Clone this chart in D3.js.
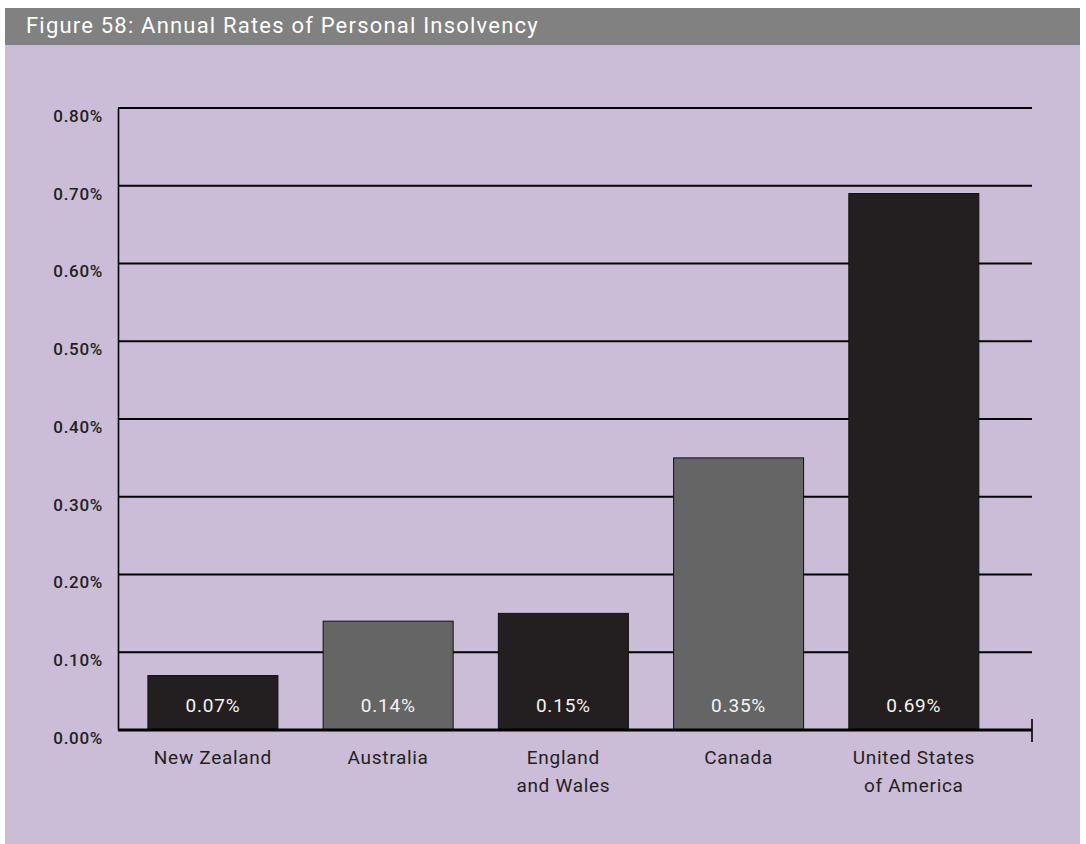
<!DOCTYPE html>
<html>
<head>
<meta charset="utf-8">
<script src="https://cdn.jsdelivr.net/npm/d3@7"></script>
<style>
  html, body { margin: 0; padding: 0; background: #ffffff; }
  svg { display: block; }
</style>
</head>
<body>
<svg id="chart" width="1086" height="844"></svg>
<script>
// Annual rates of personal insolvency by jurisdiction (percent of adult population)
const categories = ["New Zealand", "Australia", "England\nand Wales", "Canada", "United States\nof America"];
const rates = [0.07, 0.14, 0.15, 0.35, 0.69];
const barShades = ["dark", "mid", "dark", "mid", "dark"];
const yTicks = [0, 0.1, 0.2, 0.3, 0.4, 0.5, 0.6, 0.7, 0.8];
const title = "Figure 58: Annual Rates of Personal Insolvency";

const svg = d3.select("#chart");
const font = "Roboto, 'Open Sans', sans-serif";
const ink = "#231f20";
const shadeColor = { dark: "#231f20", mid: "#656565" };

// panel and title strip
svg.append("rect").attr("x", 5).attr("y", 45).attr("width", 1075).attr("height", 799).attr("fill", "#cbbdd7");
svg.append("rect").attr("x", 5).attr("y", 8).attr("width", 1075).attr("height", 37).attr("fill", "#818182");
svg.append("text").attr("x", 26).attr("y", 33)
  .attr("font-family", font).attr("font-size", 22).attr("letter-spacing", 1.2)
  .attr("fill", "#ffffff")
  .text(title);

const plotLeft = 118, plotRight = 1032, plotTop = 108, plotBottom = 730;

const y = d3.scaleLinear().domain([0, 0.8]).range([plotBottom, plotTop]);
const x = d3.scaleBand().domain(categories).range([plotLeft, plotRight])
  .paddingInner(0.258).paddingOuter(0.237).align(0.36);

// horizontal gridlines
svg.append("g").selectAll("line").data(yTicks.slice(1)).join("line")
  .attr("x1", plotLeft).attr("x2", plotRight)
  .attr("y1", d => y(d)).attr("y2", d => y(d))
  .attr("stroke", "#000").attr("stroke-width", 2.2);

// y axis, labels sit just below their gridline
const yAxis = d3.axisLeft(y).tickValues(yTicks).tickSize(0).tickPadding(15)
  .tickFormat(d => d3.format(".2f")(d) + "%");
const gy = svg.append("g").attr("transform", `translate(${plotLeft},0)`).call(yAxis);
gy.select(".domain").attr("stroke", "#000").attr("stroke-width", 1.6);
gy.selectAll("text").attr("y", 8).attr("font-family", font).attr("font-size", 17)
  .attr("font-weight", 500).attr("letter-spacing", 0.7).attr("fill", ink);

// bars
svg.append("g").selectAll("rect").data(categories).join("rect")
  .attr("x", d => x(d))
  .attr("y", (d, i) => y(rates[i]))
  .attr("width", x.bandwidth())
  .attr("height", (d, i) => y(0) - y(rates[i]))
  .attr("fill", (d, i) => shadeColor[barShades[i]])
  .attr("stroke", "#111").attr("stroke-width", 1);

// value labels inside bars
svg.append("g").selectAll("text").data(categories).join("text")
  .attr("x", d => x(d) + x.bandwidth() / 2)
  .attr("y", plotBottom - 18)
  .attr("text-anchor", "middle")
  .attr("font-family", font).attr("font-size", 19).attr("letter-spacing", 0.8)
  .attr("fill", "#f4f4f4")
  .text((d, i) => d3.format(".2f")(rates[i]) + "%");

// baseline with end tick
svg.append("line").attr("x1", plotLeft).attr("x2", plotRight).attr("y1", plotBottom).attr("y2", plotBottom)
  .attr("stroke", "#000").attr("stroke-width", 3);
svg.append("line").attr("x1", plotRight).attr("x2", plotRight).attr("y1", plotBottom - 11).attr("y2", plotBottom + 12)
  .attr("stroke", "#000").attr("stroke-width", 1.6);

// category labels
const cat = svg.append("g").selectAll("text").data(categories).join("text")
  .attr("x", d => x(d) + x.bandwidth() / 2)
  .attr("y", plotBottom + 34)
  .attr("text-anchor", "middle")
  .attr("font-family", font).attr("font-size", 19).attr("letter-spacing", 0.7)
  .attr("fill", ink);
cat.selectAll("tspan").data(d => d.split("\n")).join("tspan")
  .attr("x", function () { return this.parentNode.getAttribute("x"); })
  .attr("dy", (d, i) => i === 0 ? 0 : 28)
  .text(d => d);
</script>
</body>
</html>
